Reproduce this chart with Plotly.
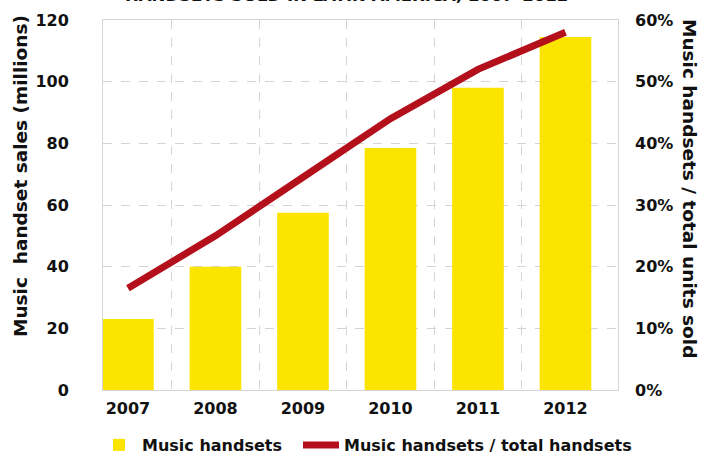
import plotly.graph_objects as go

years = [2007, 2008, 2009, 2010, 2011, 2012]
year_labels = ["2007", "2008", "2009", "2010", "2011", "2012"]
sales_millions = [23, 40, 57.5, 78.5, 98, 114.5]
share_pct = [16.5, 25, 34.5, 44, 52, 58]

left_ticks = [0, 20, 40, 60, 80, 100, 120]
right_ticks = [0, 10, 20, 30, 40, 50, 60]
right_labels = ["0%", "10%", "20%", "30%", "40%", "50%", "60%"]

FONT = "DejaVu Sans"
fig = go.Figure()
fig.add_trace(go.Bar(
    x=years, y=sales_millions, name="Music handsets",
    marker=dict(color="#fbe400", line=dict(width=0)), width=0.59,
    legend="legend",
))
fig.add_trace(go.Scatter(
    x=years, y=share_pct, name="Music handsets / total handsets", yaxis="y2",
    mode="lines", line=dict(color="#b3101c", width=7), legend="legend2",
))

grid = "#d4d4d4"
leg_y = (461 - 445) / 461
legend_common = dict(orientation="h", xref="container", yref="container", xanchor="left",
                     y=leg_y, yanchor="middle", font=dict(size=16, family=FONT, weight="bold"),
                     itemwidth=36, bgcolor="rgba(0,0,0,0)")
fig.update_layout(
    width=705, height=461,
    margin=dict(l=103, r=87, t=20, b=71, autoexpand=False),
    paper_bgcolor="white", plot_bgcolor="white",
    font=dict(family=FONT, size=16, color="#111111", weight="bold"),
    showlegend=True,
    legend=dict(x=96 / 705, **legend_common),
    legend2=dict(x=298 / 705, **legend_common),
    xaxis=dict(range=[2006.715, 2012.6], tickvals=years, ticktext=year_labels,
               showgrid=False, showline=True, linecolor=grid, mirror=True, linewidth=1,
               zeroline=False, ticks="", ticklabelstandoff=4,
               minor=dict(tickvals=[2007.5, 2008.5, 2009.5, 2010.5, 2011.5],
                          showgrid=True, gridcolor=grid, griddash="dash", gridwidth=1)),
    yaxis=dict(range=[0, 120], tickvals=left_ticks, showgrid=True, gridcolor=grid,
               griddash="dash", zeroline=False, showline=True, linecolor=grid, mirror=True,
               ticks="", ticklabelstandoff=30),
    yaxis2=dict(range=[0, 60], overlaying="y", side="right", tickvals=right_ticks,
                ticktext=right_labels, showgrid=False, zeroline=False, ticks="",
                ticklabelstandoff=16),
    annotations=[
        dict(text="Music  handset sales (millions)", textangle=-90, xref="paper", yref="paper",
             x=(20 - 103) / 515, y=(390 - 176) / 370, xanchor="center", yanchor="middle",
             showarrow=False, font=dict(size=18.5, family=FONT, weight="bold")),
        dict(text="Music handsets / total units sold", textangle=90, xref="paper", yref="paper",
             x=(690 - 103) / 515, y=(390 - 188) / 370, xanchor="center", yanchor="middle",
             showarrow=False, font=dict(size=18.5, family=FONT, weight="bold")),
        dict(text="HANDSETS SOLD IN LATIN AMERICA, 2007\u20132012", xref="paper", yref="paper",
             x=(346 - 103) / 515, y=(390 - 6.5) / 370, xanchor="center", yanchor="bottom",
             showarrow=False, font=dict(size=16.5, family=FONT, weight="bold")),
    ],
)

fig.write_html("out.html", config={"displayModeBar": False},
               post_script="document.body.style.margin='0px';")
